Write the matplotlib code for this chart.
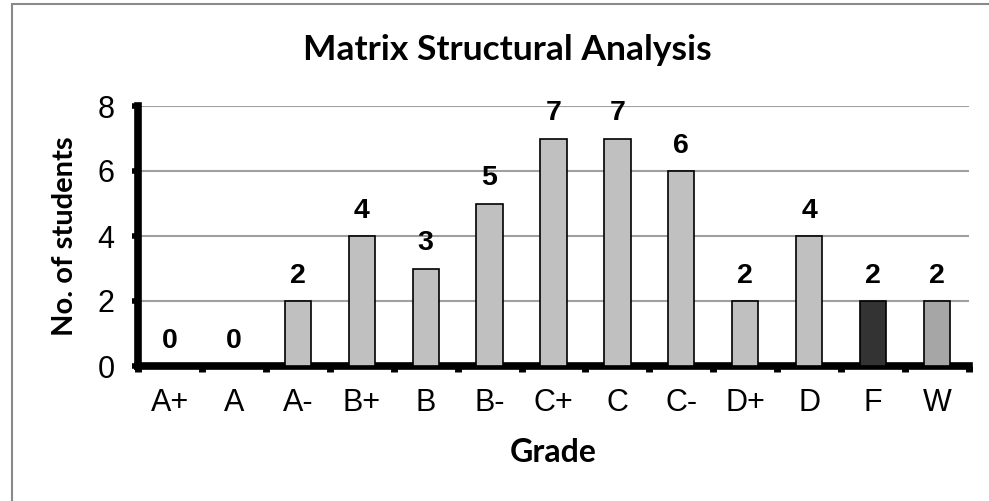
import matplotlib
matplotlib.use("Agg")
import matplotlib.pyplot as plt
from matplotlib.patches import Rectangle
import numpy as np

# Data
grades = ['A+', 'A', 'A-', 'B+', 'B', 'B-', 'C+', 'C', 'C-', 'D+', 'D', 'F', 'W']
students = [0, 0, 2, 4, 3, 5, 7, 7, 6, 2, 4, 2, 2]
y_ticks = [0, 2, 4, 6, 8]

W, H, DPI = 989, 501, 100
fig = plt.figure(figsize=(W / DPI, H / DPI), dpi=DPI)

# chart frame (runs off the right and bottom edges)
fig.patches.append(Rectangle((12 / W, -0.1), 1.2, 1 - 4 / H + 0.1,
                             transform=fig.transFigure, fill=False,
                             edgecolor='#8a8a8a', linewidth=1.5))

ax = fig.add_axes([138 / W, (H - 366) / H, (969 - 138) / W, (366 - 106) / H])

# bar colours
fills = ['#c0c0c0'] * len(grades)
fills[grades.index('F')] = '#333333'
fills[grades.index('W')] = '#a6a6a6'

x = np.arange(len(grades)) + 0.5
ax.bar(x, students, width=0.41, color=fills, edgecolor='black', linewidth=1.2, zorder=3)

# value labels
for xi, v in zip(x, students):
    ax.annotate(str(v), (xi, v), xytext=(0, 13), textcoords='offset points',
                ha='center', va='baseline', fontsize=20.5, fontweight='bold',
                family='Liberation Sans')

ax.set_xlim(0, len(grades))
ax.set_ylim(0, 8)

# gridlines
ax.set_yticks(y_ticks)
ax.yaxis.grid(True, color='#a0a0a0', linewidth=1.5, zorder=0)
ax.set_axisbelow(True)

# x ticks at category borders, labels in the middle
ax.set_xticks(np.arange(len(grades) + 1))
ax.set_xticklabels([])
ax.set_xticks(x, minor=True)
ax.set_xticklabels(grades, minor=True, fontsize=22, family='Liberation Sans')
ax.tick_params(axis='x', which='major', direction='out', length=4, width=5, color='black')
ax.tick_params(axis='x', which='minor', length=0, pad=16)
ax.tick_params(axis='y', direction='out', length=4, width=4, pad=13,
               labelsize=22)
for lab in ax.get_yticklabels():
    lab.set_family('Liberation Sans')

for s in ['top', 'right']:
    ax.spines[s].set_visible(False)
for s in ['left', 'bottom']:
    ax.spines[s].set_linewidth(5.5)
    ax.spines[s].set_color('black')
    ax.spines[s].set_capstyle('projecting')

fig.text(507 / W, 1 - 60 / H, 'Matrix Structural Analysis', ha='center', va='baseline',
         fontsize=25.5, fontweight='bold', family='Lato')
fig.text(553 / W, 1 - 452 / H, 'Grade', ha='center', va='center',
         fontsize=23, fontweight='bold', family='Lato')
fig.text(65 / W, 1 - 236 / H, 'No. of students', ha='center', va='center',
         rotation=90, fontsize=21, fontweight='bold', family='Lato')

fig.savefig('out.png', dpi=DPI)
